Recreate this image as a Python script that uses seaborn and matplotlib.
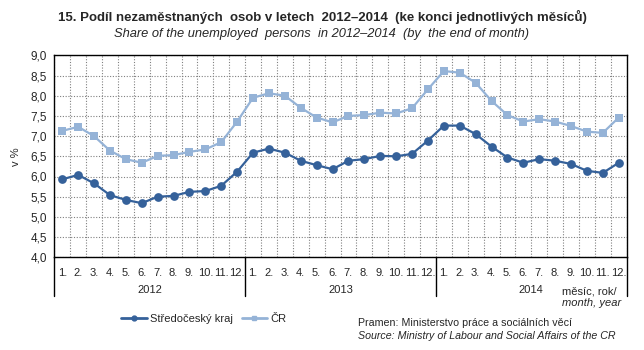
import matplotlib
matplotlib.use("Agg")
import matplotlib.pyplot as plt
import seaborn as sns
import pandas as pd
import numpy as np
from matplotlib.lines import Line2D
from matplotlib.ticker import FuncFormatter, MultipleLocator

years = ["2012", "2013", "2014"]
months = [f"{m}." for m in range(1, 13)]
stredocesky = [5.93, 6.04, 5.83, 5.54, 5.42, 5.34, 5.50, 5.52, 5.62, 5.64, 5.77, 6.12,
               6.59, 6.69, 6.59, 6.39, 6.28, 6.18, 6.39, 6.43, 6.51, 6.50, 6.56, 6.89,
               7.26, 7.26, 7.05, 6.74, 6.47, 6.34, 6.43, 6.39, 6.31, 6.14, 6.09, 6.34]
cr = [7.13, 7.23, 7.00, 6.64, 6.43, 6.34, 6.51, 6.53, 6.61, 6.67, 6.85, 7.36,
      7.95, 8.06, 8.00, 7.70, 7.46, 7.34, 7.50, 7.52, 7.58, 7.56, 7.69, 8.16,
      8.61, 8.57, 8.32, 7.87, 7.52, 7.36, 7.42, 7.36, 7.25, 7.11, 7.08, 7.46]
series_names = ["Středočeský kraj", "ČR"]

sns.set_theme(style="white")
plt.rcParams['font.family'] = ['Liberation Sans', 'DejaVu Sans']
narrow = ['Liberation Sans Narrow', 'Liberation Sans', 'DejaVu Sans']

n = len(stredocesky)
idx = np.arange(n)
df = pd.DataFrame({"i": np.concatenate([idx, idx]),
                   "v": stredocesky + cr,
                   "s": [series_names[0]] * n + [series_names[1]] * n})

c_dark = "#35619a"
c_light = "#95b3d7"

fig = plt.figure(figsize=(6.44, 3.5), dpi=100)
ax = fig.add_axes([54.3 / 644, 1 - 257.3 / 350, (626.7 - 54.3) / 644, (257.3 - 55.3) / 350])

sns.lineplot(data=df[df.s == series_names[1]], x="i", y="v", ax=ax, color=c_light,
             marker="s", markersize=6, markeredgewidth=0, linewidth=1.6, legend=False)
sns.lineplot(data=df[df.s == series_names[0]], x="i", y="v", ax=ax, color=c_dark,
             marker="o", markersize=6.3, markeredgewidth=0, linewidth=1.6, legend=False)

ax.set_xlim(-0.5, n - 0.5)
ax.set_ylim(4.0, 9.0)
ax.yaxis.set_major_locator(MultipleLocator(0.5))
ax.yaxis.set_major_formatter(FuncFormatter(lambda v, p: f"{v:.1f}".replace(".", ",")))
ax.set_xticks(idx)
ax.set_xticklabels(months * 3, fontsize=8)
ax.set_xticks(np.arange(-0.5, n, 1), minor=True)
ax.tick_params(axis="x", which="both", length=0, pad=8)
ax.tick_params(axis="y", length=0, labelsize=8.5, pad=5)
ax.grid(False)
ax.grid(True, which="minor", axis="x", linestyle=(0, (1, 1.5)), color="#808080", linewidth=0.8)
ax.grid(True, which="major", axis="y", linestyle=(0, (1, 1.5)), color="#808080", linewidth=0.8)
ax.set_axisbelow(True)
for sp in ax.spines.values():
    sp.set_color("black")
    sp.set_linewidth(1.0)
ax.set_xlabel("")
ax.set_ylabel("v %", fontsize=8, labelpad=7)

# year separators and labels below the axis
tr = ax.get_xaxis_transform()
depth = (296 - 257.3) / 202
for b in np.arange(-0.5, n, 12):
    ax.plot([b, b], [0, -depth], transform=tr, color="black", lw=1.0, clip_on=False)
for k, y in enumerate(years):
    ax.text(12 * k + 5.5, -(290 - 257.3) / 202, y, transform=tr, ha="center", va="center", fontsize=8)

fig.text(562 / 644, 1 - 291.5 / 350, "měsíc, rok/", fontsize=8, va="center", ha="left", family=narrow)
fig.text(562 / 644, 1 - 303.5 / 350, "month, year", fontsize=8, va="center", ha="left", style="italic",
         family=narrow)

# title
fig.text(0.5, 1 - 17 / 350, "15. Podíl nezaměstnaných  osob v letech  2012–2014  (ke konci jednotlivých měsíců)",
         ha="center", va="center", fontsize=9.5, fontweight="bold", family=narrow)
fig.text(0.5, 1 - 34 / 350, "Share of the unemployed  persons  in 2012–2014  (by  the end of month)",
         ha="center", va="center", fontsize=9.3, style="italic", family=narrow)

# legend
handles = [Line2D([], [], color=c_dark, marker="o", markersize=3.5, lw=2),
           Line2D([], [], color=c_light, marker="s", markersize=3.5, lw=2)]
fig.legend(handles, series_names, loc="center left", bbox_to_anchor=(121 / 644, 1 - 319 / 350),
           ncol=2, frameon=False, fontsize=8, handlelength=2.3, handletextpad=0.3,
           columnspacing=0.8, borderpad=0, borderaxespad=0)

fig.text(358 / 644, 1 - 323 / 350, "Pramen: Ministerstvo práce a sociálních věcí", fontsize=7.7, va="center",
         family=narrow)
fig.text(358 / 644, 1 - 336 / 350, "Source: Ministry of Labour and Social Affairs of the CR", fontsize=7.7,
         va="center", style="italic", family=narrow)

fig.savefig("out.png", dpi=100)
